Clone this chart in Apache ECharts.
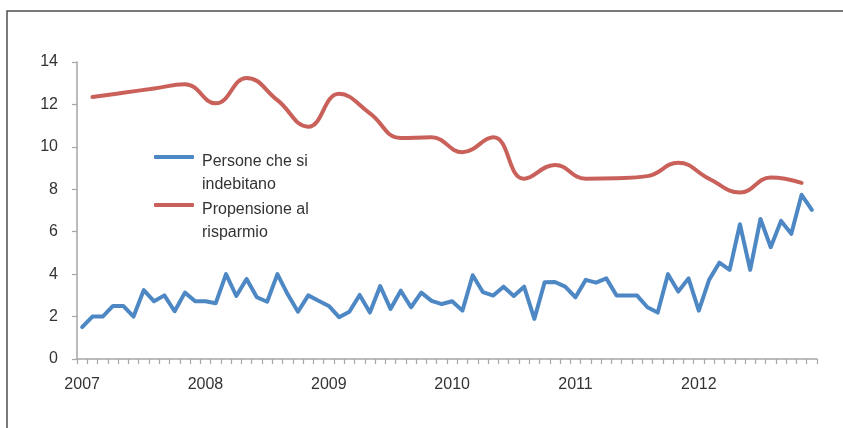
<!DOCTYPE html>
<html>
<head>
<meta charset="utf-8">
<script src="https://cdn.jsdelivr.net/npm/echarts@6/dist/echarts.min.js"></script>
<style>
  html, body { margin: 0; padding: 0; background: #fff; }
  #chart { width: 843px; height: 428px; }
</style>
</head>
<body>
<div id="chart"></div>
<script>
// Monthly axis, January 2007 – December 2012
const years = [2007, 2008, 2009, 2010, 2011, 2012];
const months = ['01','02','03','04','05','06','07','08','09','10','11','12'];
const categories = [];
years.forEach(y => months.forEach(m => categories.push(y + '-' + m)));

const yTicks = [0, 2, 4, 6, 8, 10, 12, 14];

// Persone che si indebitano (monthly)
const indebitano = [
  1.5, 2.0, 2.0, 2.5, 2.5, 2.0, 3.25, 2.72, 3.0, 2.25, 3.13, 2.72,
  2.72, 2.63, 4.0, 2.97, 3.77, 2.91, 2.7, 4.0, 3.05, 2.23, 3.0, 2.75,
  2.5, 1.97, 2.23, 3.02, 2.19, 3.44, 2.36, 3.22, 2.44, 3.13, 2.74, 2.59,
  2.72, 2.28, 3.95, 3.15, 2.99, 3.41, 2.97, 3.41, 1.89, 3.62, 3.63, 3.41,
  2.91, 3.73, 3.6, 3.8, 2.99, 2.99, 2.99, 2.44, 2.19, 4.0, 3.18, 3.8,
  2.28, 3.73, 4.54, 4.2, 6.35, 4.2, 6.6, 5.27, 6.51, 5.9, 7.74, 7.03
];

// Propensione al risparmio (quarterly, plotted at the middle month of each quarter)
const risparmio = [
  12.35, 12.55, 12.75, 12.95,
  12.05, 13.25, 12.2, 10.95,
  12.5, 11.58, 10.42, 10.45,
  9.75, 10.45, 8.5, 9.15,
  8.5, 8.52, 8.62, 9.25,
  8.5, 7.85, 8.55, 8.3
];

const risparmioMonthly = categories.map(() => null);
risparmio.forEach((v, k) => { risparmioMonthly[1 + 3 * k] = v; });

const FONT = '"Liberation Sans", Arial, sans-serif';
const TEXT = '#333333';
const AXIS = '#a6a6a6';

// legend entry: the icon sits beside the first text line, the rest wraps below
const legendEntry = (name, top) => ({
  data: [name],
  left: 154, top: top,
  orient: 'vertical',
  padding: 0,
  icon: 'roundRect',
  itemWidth: 40, itemHeight: 4,
  selectedMode: false,
  formatter: n => '{g| }\n' + n.split('\n').map(s => '{t|' + s + '}').join('\n'),
  textStyle: {
    fontFamily: FONT, fontSize: 16, color: TEXT,
    rich: {
      g: { lineHeight: 33, fontSize: 16 },
      t: { lineHeight: 23, fontSize: 16, fontFamily: FONT, color: TEXT, padding: [0, 0, 0, 3] }
    }
  }
});

const chart = echarts.init(document.getElementById('chart'), null, { renderer: 'canvas' });

chart.setOption({
  animation: false,
  backgroundColor: '#ffffff',
  textStyle: { fontFamily: FONT },
  graphic: [{
    type: 'rect',
    silent: true,
    shape: { x: 7, y: 11, width: 900, height: 500 },
    style: { fill: 'none', stroke: '#4d4d4d', lineWidth: 1.5 }
  }],
  grid: { left: 77, right: 26, top: 62, bottom: 69, containLabel: false },
  legend: [
    legendEntry('Persone che si\nindebitano', 126),
    legendEntry('Propensione al\nrisparmio', 174)
  ],
  xAxis: {
    type: 'category',
    data: categories,
    boundaryGap: true,
    axisLine: { lineStyle: { color: AXIS, width: 1.5 } },
    axisTick: { show: true, interval: 0, length: 5, lineStyle: { color: AXIS, width: 1.2 } },
    axisLabel: {
      interval: 0,
      formatter: (v, i) => (i % 12 === 0 ? v.slice(0, 4) : ''),
      margin: 18,
      fontFamily: FONT, fontSize: 16, color: TEXT
    },
    splitLine: { show: false }
  },
  yAxis: {
    type: 'value',
    min: yTicks[0],
    max: yTicks[yTicks.length - 1],
    interval: 2,
    axisLine: { show: true, lineStyle: { color: AXIS, width: 1.5 } },
    axisTick: { show: true, length: 5, lineStyle: { color: AXIS, width: 1.2 } },
    axisLabel: { margin: 19, fontFamily: FONT, fontSize: 16, color: TEXT },
    splitLine: { show: false }
  },
  series: [{
    name: 'Persone che si\nindebitano',
    type: 'line',
    data: indebitano,
    symbol: 'none',
    lineStyle: { color: '#4E88C4', width: 4, cap: 'round', join: 'round' },
    itemStyle: { color: '#4E88C4' }
  }, {
    name: 'Propensione al\nrisparmio',
    type: 'line',
    data: risparmioMonthly,
    connectNulls: true,
    smooth: 0.45,
    symbol: 'none',
    lineStyle: { color: '#C9605A', width: 4, cap: 'round', join: 'round' },
    itemStyle: { color: '#C9605A' }
  }]
});
</script>
</body>
</html>
